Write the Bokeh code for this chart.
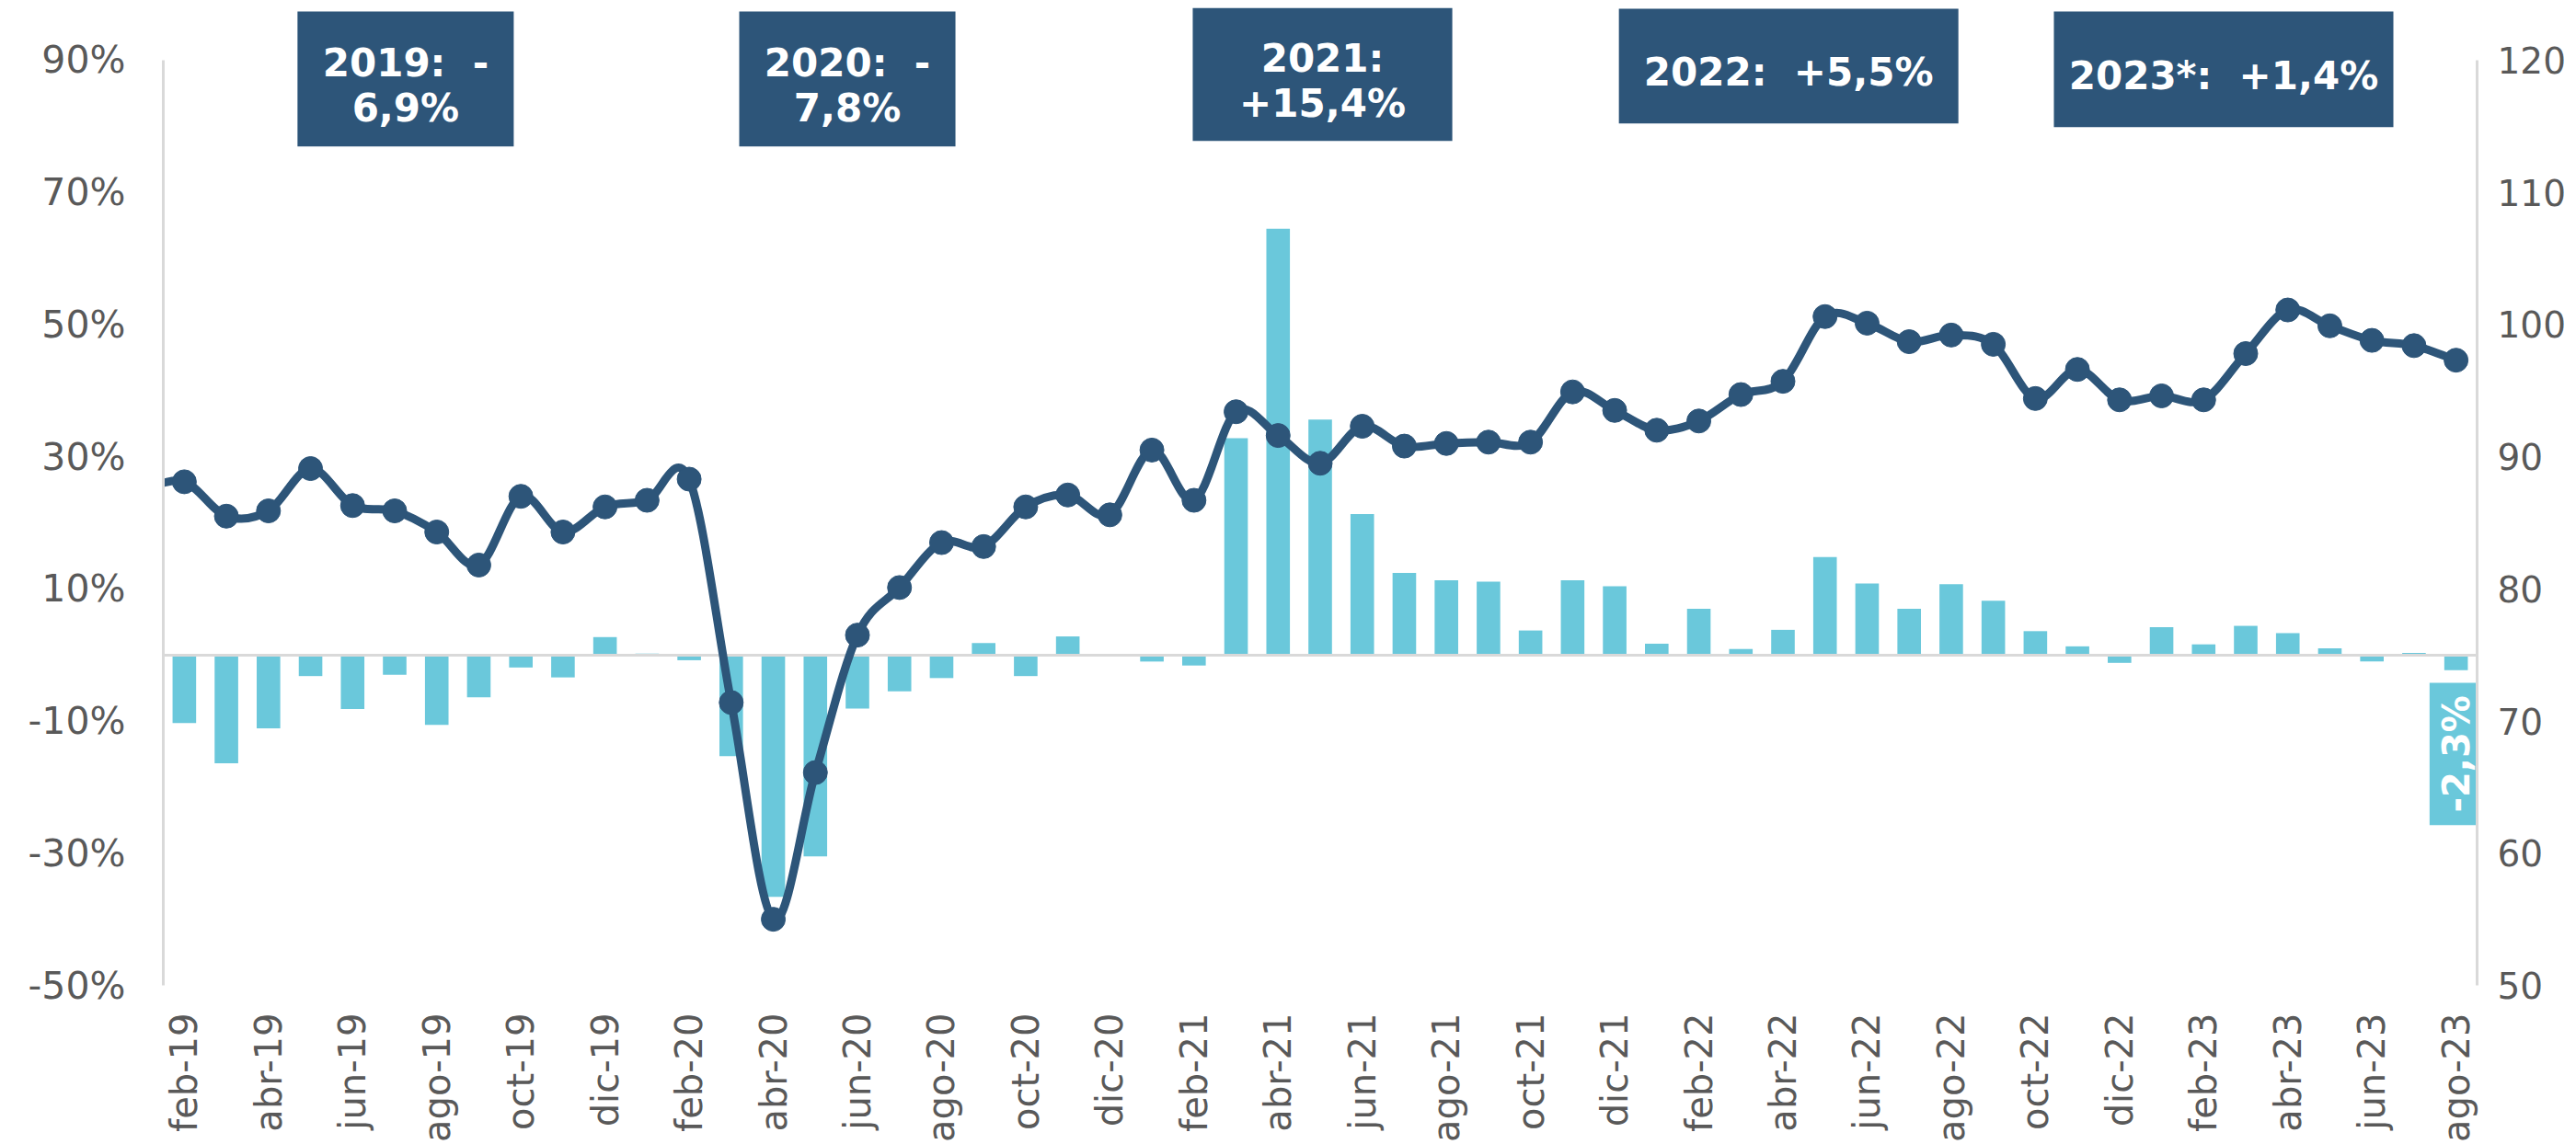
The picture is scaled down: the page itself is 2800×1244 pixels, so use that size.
import numpy as np
from bokeh.plotting import figure
from bokeh.models import Range1d, LinearAxis, FixedTicker, PrintfTickFormatter
from bokeh.core.properties import value
from bokeh.embed import file_html
from bokeh.resources import INLINE

# ---------------- data ----------------
months = ["feb-19", "mar-19", "abr-19", "may-19", "jun-19", "jul-19", "ago-19", "sep-19", "oct-19", "nov-19", "dic-19",
          "ene-20", "feb-20", "mar-20", "abr-20", "may-20", "jun-20", "jul-20", "ago-20", "sep-20", "oct-20", "nov-20", "dic-20",
          "ene-21", "feb-21", "mar-21", "abr-21", "may-21", "jun-21", "jul-21", "ago-21", "sep-21", "oct-21", "nov-21", "dic-21",
          "ene-22", "feb-22", "mar-22", "abr-22", "may-22", "jun-22", "jul-22", "ago-22", "sep-22", "oct-22", "nov-22", "dic-22",
          "ene-23", "feb-23", "mar-23", "abr-23", "may-23", "jun-23", "jul-23", "ago-23"]

# interannual variation (%), left axis, bars
var_pct = [-10.3, -16.4, -11.1, -3.2, -8.2, -3.0, -10.6, -6.4, -1.9, -3.4, 2.7,
           0.2, -0.8, -15.3, -36.6, -30.5, -8.1, -5.5, -3.5, 1.8, -3.2, 2.8, 0.1,
           -1.0, -1.6, 32.8, 64.5, 35.6, 21.3, 12.4, 11.3, 11.1, 3.7, 11.3, 10.4,
           1.7, 7.0, 0.9, 3.8, 14.8, 10.8, 7.0, 10.7, 8.2, 3.6, 1.3, -1.2,
           4.2, 1.6, 4.4, 3.3, 1.0, -1.0, 0.3, -2.3]

# index level, right axis, line
index_vals = [88.1, 85.5, 85.9, 89.1, 86.3, 85.9, 84.3, 81.8, 87.0, 84.3, 86.2,
              86.7, 88.3, 71.4, 55.0, 66.1, 76.5, 80.1, 83.5, 83.2, 86.2, 87.1, 85.6,
              90.5, 86.7, 93.4, 91.6, 89.5, 92.3, 90.8, 91.0, 91.1, 91.1, 94.9, 93.5,
              92.0, 92.7, 94.7, 95.7, 100.6, 100.1, 98.7, 99.2, 98.5, 94.4, 96.6, 94.3,
              94.6, 94.3, 97.8, 101.1, 99.9, 98.8, 98.4, 97.3]
index_ene19 = 87.5  # ene-19, before the first shown month (only its segment enters the frame)

# yearly annotations (text as shown in the boxes; \u00a0 keeps the double space)
header_lines = [["2019:\u00a0 -", "6,9%"], ["2020:\u00a0 -", "7,8%"], ["2021:", "+15,4%"],
                ["2022:\u00a0 +5,5%"], ["2023*:\u00a0 +1,4%"]]

# ---------------- layout (annotation boxes, in axis units) ----------------
hdr_left = [2.69, 13.19, 23.97, 34.10, 44.44]
hdr_right = [7.83, 18.33, 30.14, 42.17, 52.51]
hdr_top = [97.36, 97.36, 97.92, 97.78, 97.36]
hdr_bottom = [76.94, 76.94, 77.77, 80.41, 79.86]

DARK = "#2D5579"
BAR = "#6AC8DB"
GRAY_TXT = "#595959"
AXIS_GRAY = "#D9D9D9"
FONT = "DejaVu Sans"

n = len(months)
xs = list(range(n))

y_lo, y_hi = -50, 97.92
p = figure(width=2800, height=1244, x_range=Range1d(-0.5, n - 0.5), y_range=Range1d(y_lo, y_hi),
           output_backend="svg", toolbar_location=None,
           min_border_left=177, min_border_right=108, min_border_top=8, min_border_bottom=172)
# right axis maps -50%..90% onto 50..120
p.extra_y_ranges = {"right": Range1d(50 + (y_lo + 50) / 2, 50 + (y_hi + 50) / 2)}

p.grid.visible = False
p.outline_line_color = None
p.background_fill_color = "white"
p.border_fill_color = "white"

# x axis
xa = p.xaxis[0]
xa.ticker = FixedTicker(ticks=list(range(0, n, 2)))
xa.major_label_overrides = {i: months[i] for i in range(0, n, 2)}
xa.major_label_orientation = np.pi / 2
xa.axis_line_color = None
xa.major_tick_line_color = None
xa.minor_tick_line_color = None
xa.major_tick_out = 0
xa.major_label_text_font = FONT
xa.major_label_text_font_size = "40px"
xa.major_label_text_color = GRAY_TXT
xa.major_label_standoff = 30

# left axis
ya = p.yaxis[0]
ya.ticker = FixedTicker(ticks=list(range(-50, 91, 20)))
ya.formatter = PrintfTickFormatter(format="%d%%")
ya.bounds = (-50, 90)
ya.axis_line_color = AXIS_GRAY
ya.axis_line_width = 3
ya.major_tick_line_color = None
ya.minor_tick_line_color = None
ya.major_tick_out = 0
ya.major_label_text_font = FONT
ya.major_label_text_font_size = "41px"
ya.major_label_text_color = GRAY_TXT
ya.major_label_standoff = 41

# right axis
ra = LinearAxis(y_range_name="right", ticker=FixedTicker(ticks=list(range(50, 121, 10))), bounds=(50, 120))
ra.axis_line_color = AXIS_GRAY
ra.axis_line_width = 3
ra.major_tick_line_color = None
ra.minor_tick_line_color = None
ra.major_tick_out = 0
ra.major_label_text_font = FONT
ra.major_label_text_font_size = "39px"
ra.major_label_text_color = GRAY_TXT
ra.major_label_standoff = 22
p.add_layout(ra, "right")

# header boxes
p.quad(left=hdr_left, right=hdr_right, top=hdr_top, bottom=hdr_bottom, fill_color=DARK, line_color=None)

# bars
p.vbar(x=xs, top=var_pct, bottom=0, width=0.56, fill_color=BAR, line_color=None)

# zero line
p.hspan(y=[0], line_color=AXIS_GRAY, line_width=3)

# smoothed line (cubic Bezier through the points)
lx = np.array([-1] + xs, dtype=float)
ly = np.array([index_ene19] + index_vals, dtype=float)
m = len(lx)
x0, y0, x1, y1, cx0, cy0, cx1, cy1 = ([] for _ in range(8))
for i in range(m - 1):
    pr = max(i - 1, 0)
    nx = min(i + 2, m - 1)
    x0.append(lx[i]); y0.append(ly[i]); x1.append(lx[i + 1]); y1.append(ly[i + 1])
    cx0.append(lx[i] + (lx[i + 1] - lx[pr]) / 6); cy0.append(ly[i] + (ly[i + 1] - ly[pr]) / 6)
    cx1.append(lx[i + 1] - (lx[nx] - lx[i]) / 6); cy1.append(ly[i + 1] - (ly[nx] - ly[i]) / 6)
p.bezier(x0=x0, y0=y0, x1=x1, y1=y1, cx0=cx0, cy0=cy0, cx1=cx1, cy1=cy1,
         line_color=DARK, line_width=9, line_cap="round", y_range_name="right")
p.scatter(x=xs, y=index_vals, marker="circle", size=26, fill_color=DARK, line_color=DARK,
          y_range_name="right")

# last value label
last = var_pct[-1]
last_txt = ("%.1f%%" % last).replace(".", ",")
lbl_half_w, lbl_top, lbl_bottom = 0.63, -4.21, -25.75
p.quad(left=[xs[-1] - lbl_half_w], right=[xs[-1] + lbl_half_w], top=[lbl_top], bottom=[lbl_bottom],
       fill_color=BAR, line_color=None)
p.text(x=[xs[-1]], y=[(lbl_top + lbl_bottom) / 2], text=[last_txt], angle=np.pi / 2,
       text_align="center", text_baseline="middle", text_color="white",
       text_font=value(FONT), text_font_style="bold", text_font_size="40px")

# header texts
tx, ty, tt, toff = [], [], [], []
for k, lines in enumerate(header_lines):
    cx = (hdr_left[k] + hdr_right[k]) / 2
    cy = (hdr_top[k] + hdr_bottom[k]) / 2
    nl = len(lines)
    for j, s in enumerate(lines):
        tx.append(cx); ty.append(cy); tt.append(s)
        toff.append(7 + (j - (nl - 1) / 2) * 49)
p.text(x=tx, y=ty, text=tt, y_offset=toff, text_align="center", text_baseline="middle",
       text_color="white", text_font=value(FONT), text_font_style="bold", text_font_size="42px")

open("out.html", "w").write(file_html(p, INLINE))
